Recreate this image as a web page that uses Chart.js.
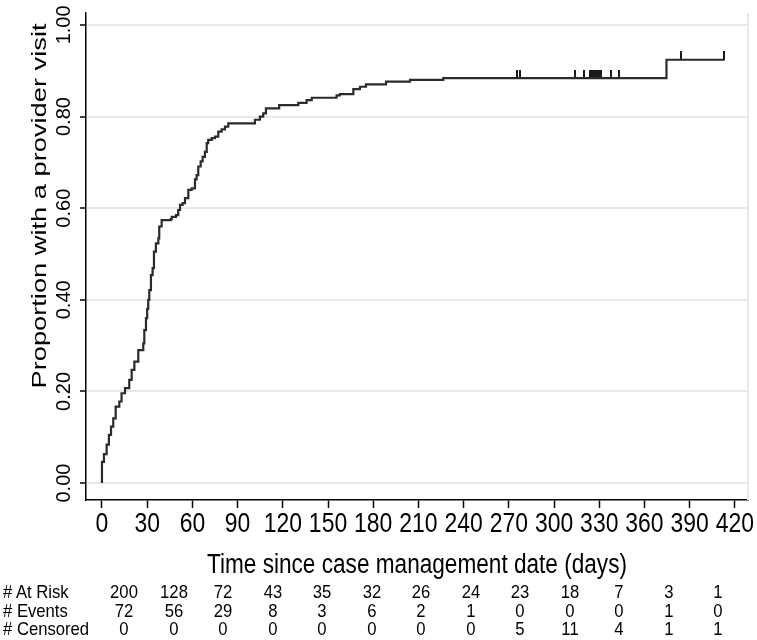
<!DOCTYPE html>
<html>
<head>
<meta charset="utf-8">
<script src="https://cdn.jsdelivr.net/npm/chart.js@4.4.1/dist/chart.umd.min.js"></script>
<style>
  html, body { margin: 0; padding: 0; background: #fff; }
  #wrap { position: relative; width: 757px; height: 640px; overflow: hidden; }
  #chart { position: absolute; left: 0; top: 0; }
  #risk { position: absolute; left: 0; top: 583px; width: 757px; font-family: "Liberation Sans", Arial, sans-serif; font-size: 18.5px; color: #000; }
  #risk .row { position: relative; height: 18.5px; line-height: 18.5px; }
  #risk .lab { position: absolute; left: 3px; transform: scaleX(0.9); transform-origin: left center; white-space: nowrap; }
  #risk .val { position: absolute; transform: translateX(-50%) scaleX(0.9); }
</style>
</head>
<body>
<div id="wrap">
  <canvas id="chart" width="757" height="596"></canvas>
  <div id="risk"></div>
</div>
<script>
// axis ticks
const dayTicks = [0, 30, 60, 90, 120, 150, 180, 210, 240, 270, 300, 330, 360, 390, 420]
const propTicks = [0, 0.2, 0.4, 0.6, 0.8, 1.0]

// cumulative proportion with a visit
const eventDays = [0, 0, 1.3, 3.1, 4.6, 6, 7.5, 9.1, 11.5, 13, 15.3, 18.1, 19.7, 21.5, 24.1, 27.4, 28.1, 29.2, 30, 30.7,
  31.4, 32.5, 33.6, 34.5, 35.8, 37.4, 38, 39.6, 45.6, 46.3, 49.1, 50.6, 51.8, 53.5, 55.1, 57.3, 59.5,
  61.7, 62.8, 63.9, 65.5, 66.8, 68.3, 69.5, 70.5, 72.8, 75, 77.2, 79.4, 81.6, 83.8, 101.5, 104.8, 107,
  108.8, 117.6, 130.3, 135.8, 139.2, 155.7, 157.9, 166.8, 171.2, 175.2, 188.5, 204.4, 226.5, 374.6]
const cumProp = [0, 0.046, 0.063, 0.084, 0.105, 0.123, 0.141, 0.167, 0.178, 0.196, 0.207, 0.225, 0.247, 0.265, 0.29, 0.305, 0.334, 0.36, 0.38, 0.4,
  0.421, 0.454, 0.469, 0.505, 0.523, 0.534, 0.56, 0.574, 0.576, 0.581, 0.585, 0.596, 0.607, 0.611, 0.622, 0.64, 0.643,
  0.663, 0.672, 0.691, 0.702, 0.712, 0.723, 0.742, 0.749, 0.753, 0.756, 0.767, 0.772, 0.778, 0.785, 0.793, 0.8, 0.807,
  0.818, 0.825, 0.83, 0.836, 0.841, 0.846, 0.849, 0.86, 0.865, 0.87, 0.876, 0.88, 0.884, 0.924]
const censorDays = [275.5, 275.5, 277.5, 277.5, 277.5, 314, 320, 324, 324, 325, 325, 326, 326, 327, 328, 329, 330.5, 331, 338, 343, 384, 413]

// number-at-risk table
const rowLabels = ["# At Risk", "# Events", "# Censored"]
const atRisk = [200, 128, 72, 43, 35, 32, 26, 24, 23, 18, 7, 3, 1]
const events = [72, 56, 29, 8, 3, 6, 2, 1, 0, 0, 0, 1, 0]
const censored = [0, 0, 0, 0, 0, 0, 0, 0, 5, 11, 4, 1, 1]

const yTitle = "Proportion with a provider visit"
const xTitle = "Time since case management date (days)"

const regular = "'Liberation Sans', Arial, sans-serif"

function levelAt(day) {
  let v = 0
  eventDays.forEach((d, i) => { if (d <= day) v = cumProp[i] })
  return v
}

const lastDay = Math.max(...censorDays)
const curve = eventDays.map((d, i) => ({ x: d, y: cumProp[i] }))
curve.push({ x: lastDay, y: levelAt(lastDay) })
const censorPts = censorDays.map((d) => ({ x: d, y: levelAt(d) }))

// little upward tick used for censored times
const tick = document.createElement("canvas")
tick.width = 2
tick.height = 17
const tctx = tick.getContext("2d")
tctx.fillStyle = "#1a1a1a"
tctx.fillRect(0, 0, 2, 9)

// the source picture is a bit squeezed sideways, so text is drawn narrower
function squeezed(ctx, text, x, y, size, sx) {
  ctx.save()
  ctx.translate(x, y)
  ctx.scale(sx, 1)
  ctx.font = size + "px " + regular
  ctx.textAlign = "center"
  ctx.textBaseline = "middle"
  ctx.fillStyle = "#000"
  ctx.fillText(text, 0, 0)
  ctx.restore()
}

const frame = {
  id: "frame",
  beforeDatasetsDraw(chart) {
    const { ctx, chartArea } = chart
    ctx.save()
    ctx.strokeStyle = "#e8e8e8"
    ctx.lineWidth = 2
    ctx.beginPath()
    ctx.moveTo(chartArea.right, chartArea.top)
    ctx.lineTo(chartArea.right, chartArea.bottom)
    ctx.stroke()
    ctx.restore()
  },
  afterDraw(chart) {
    const { ctx, chartArea, scales } = chart
    dayTicks.forEach((v) => squeezed(ctx, String(v), scales.x.getPixelForValue(v), 525, 27, 0.85))

    ctx.font = "27px " + regular
    const wx = ctx.measureText(xTitle).width
    squeezed(ctx, xTitle, (chartArea.left + chartArea.right) / 2, 566, 27, 420 / wx)

    ctx.font = "20px " + regular
    const wy = ctx.measureText(yTitle).width
    ctx.save()
    ctx.translate(40, 206)
    ctx.rotate(-Math.PI / 2)
    squeezed(ctx, yTitle, 0, 0, 20, 365 / wy)
    ctx.restore()
  },
}

new Chart(document.getElementById("chart"), {
  type: "line",
  data: {
    datasets: [
      {
        data: curve,
        stepped: true,
        borderColor: "#2b2b2b",
        borderWidth: 2.2,
        pointRadius: 0,
        fill: false,
      },
      {
        data: censorPts,
        showLine: false,
        pointStyle: tick,
        pointRadius: 5,
      },
    ],
  },
  options: {
    responsive: false,
    animation: false,
    devicePixelRatio: 1,
    layout: { padding: { top: 13, right: 9, left: 0, bottom: 0 } },
    plugins: { legend: { display: false }, tooltip: { enabled: false } },
    scales: {
      x: {
        type: "linear",
        min: -10.6,
        max: 428.7,
        afterBuildTicks: (s) => { s.ticks = dayTicks.map((v) => ({ value: v })) },
        afterFit: (s) => { s.height = 96; s.paddingLeft = 0; s.paddingRight = 0 },
        border: { color: "#000", width: 1.5 },
        grid: { drawOnChartArea: false, tickLength: 8, tickColor: "#000", tickWidth: 1.5 },
        ticks: { display: false },
      },
      y: {
        type: "linear",
        min: -0.037,
        max: 1.026,
        afterBuildTicks: (s) => { s.ticks = propTicks.map((v) => ({ value: v })) },
        afterFit: (s) => { s.width = 86; s.paddingTop = 0; s.paddingBottom = 0 },
        border: { color: "#000", width: 1.5 },
        grid: { color: "#e8e8e8", lineWidth: 2, tickLength: 6, tickColor: "#000", tickWidth: 1.5 },
        ticks: {
          minRotation: 90,
          maxRotation: 90,
          crossAlign: "center",
          padding: -4,
          color: "#000",
          font: { family: regular, size: 20 },
          callback: (v) => v.toFixed(2),
        },
      },
    },
  },
  plugins: [frame],
})

// table under the axis
const risk = document.getElementById("risk")
;[atRisk, events, censored].forEach((vals, r) => {
  const row = document.createElement("div")
  row.className = "row"
  const lab = document.createElement("span")
  lab.className = "lab"
  lab.textContent = rowLabels[r]
  row.appendChild(lab)
  vals.forEach((v, i) => {
    const cell = document.createElement("span")
    cell.className = "val"
    cell.style.left = (124 + i * 49.5) + "px"
    cell.textContent = v
    row.appendChild(cell)
  })
  risk.appendChild(row)
})
</script>
</body>
</html>
